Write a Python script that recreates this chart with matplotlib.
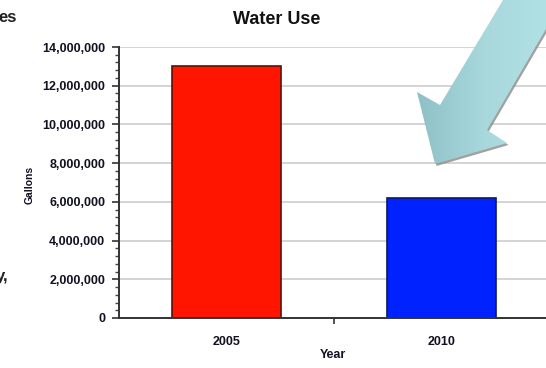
import numpy as np
import matplotlib
matplotlib.use("Agg")
from matplotlib import pyplot as plt
from matplotlib.patches import Polygon
from matplotlib.colors import LinearSegmentedColormap
from matplotlib.ticker import FuncFormatter, MultipleLocator

years = ["2005", "2010"]
gallons = [13000000, 6200000]
bar_colors = ["#ff1500", "#0022ff"]
edge_colors = ["#5a1208", "#101860"]
yticks = [0, 2000000, 4000000, 6000000, 8000000, 10000000, 12000000, 14000000]

plt.rcParams["font.family"] = ["Liberation Sans", "DejaVu Sans"]
plt.rcParams["font.weight"] = "bold"

fig = plt.figure(figsize=(5.46, 3.68), dpi=100)
ax = fig.add_axes([119 / 546, 1 - 318 / 368, 430 / 546, 271 / 368])

x = np.arange(len(years))
ax.bar(x, gallons, width=0.505, color=bar_colors, edgecolor=edge_colors, linewidth=1.2, zorder=3)

ax.set_xlim(-0.5, 1.5)
ax.set_ylim(0, 14000000)
ax.set_yticks(yticks)
ax.yaxis.set_minor_locator(MultipleLocator(400000))
ax.yaxis.set_major_formatter(FuncFormatter(lambda v, p: "{:,.0f}".format(v)))
ax.grid(True, axis="y", color="#d4d4d4", linewidth=1.4, zorder=0)
ax.set_axisbelow(True)

ax.set_xticks(x)
ax.set_xticklabels(years)
ax.set_xticks([0.5], minor=True)
ax.tick_params(axis="x", which="major", length=0, pad=13, labelsize=9, labelcolor="#111122")
ax.tick_params(axis="x", which="minor", length=4, width=1.2, color="#333333")
ax.tick_params(axis="y", which="major", length=5, width=1.2, color="#333333", pad=5,
               labelsize=9, labelcolor="#111122")
ax.tick_params(axis="y", which="minor", length=3, width=1, color="#444444")

for s in ["top", "right"]:
    ax.spines[s].set_visible(False)
for s in ["left", "bottom"]:
    ax.spines[s].set_color("#333333")
    ax.spines[s].set_linewidth(1.4)
ax.spines["bottom"].set_zorder(4)

fig.text(277 / 546, 1 - 20 / 368, "Water Use", ha="center", va="center",
         fontsize=13, fontweight="bold", color="#111111")
fig.text(30 / 546, 1 - 185 / 368, "Gallons", ha="center", va="center",
         rotation=90, fontsize=7.5, fontweight="bold", color="#111122")
fig.text(333 / 546, 1 - 355 / 368, "Year", ha="center", va="center",
         fontsize=9, fontweight="bold", color="#111122")

# slide text cut off on the left, as in the screenshot
fig.text(-2 / 546, 1 - 18 / 368, "es", ha="left", va="center", fontsize=12, color="#222222")
fig.text(-4 / 546, 1 - 276 / 368, "y,", ha="left", va="center", fontsize=12, color="#222222")

# big callout arrow, drawn in pixel coordinates on an overlay
over = fig.add_axes([0, 0, 1, 1], zorder=10)
over.axis("off")

arrow_pts = [(515, -20), (560, -20), (560, 5), (487, 130), (507, 143), (435, 164),
             (417, 92), (440, 105), (503, 0)]
shadow = Polygon([(p[0] + 1.5, p[1] + 2) for p in arrow_pts], closed=True,
                 facecolor="#8a8a8a", edgecolor="none", alpha=0.8)
over.add_patch(shadow)
poly = Polygon(arrow_pts, closed=True, facecolor="none", edgecolor="none")
over.add_patch(poly)
cmap = LinearSegmentedColormap.from_list("arr", ["#8bbec4", "#a8d8dc", "#b2e3e6"])
grad = np.linspace(0, 1, 256).reshape(1, -1)
im = over.imshow(grad, cmap=cmap, extent=(410, 560, 170, -20), aspect="auto", zorder=11)
im.set_clip_path(poly)
over.set_xlim(0, 546)
over.set_ylim(368, 0)

fig.savefig("out.png", dpi=100)
